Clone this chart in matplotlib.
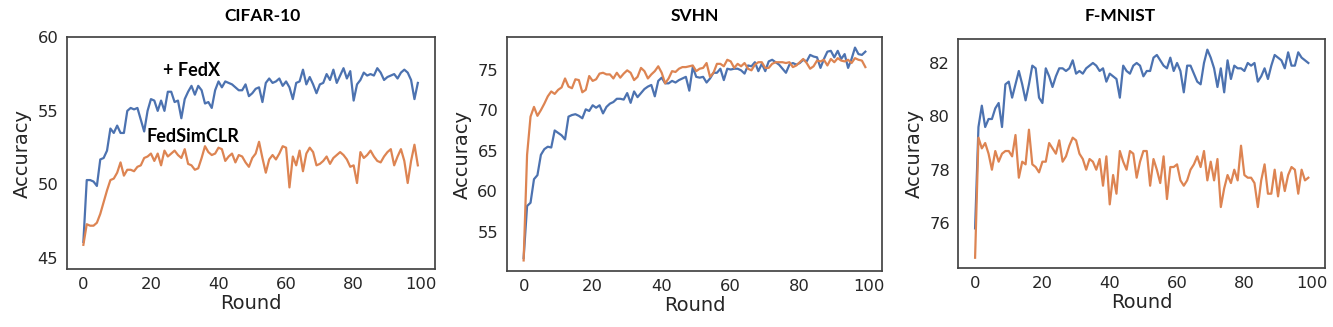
import matplotlib
matplotlib.use("Agg")
import matplotlib.pyplot as plt
import numpy as np

rounds = np.arange(100)

cifar_fedx = [46.1, 50.3, 50.3, 50.2, 49.9, 51.7, 51.8, 52.3, 53.8, 53.5,
              54.0, 53.5, 53.5, 55.0, 55.2, 55.1, 55.2, 54.4, 53.6, 55.0,
              55.8, 55.7, 55.0, 55.7, 55.0, 56.3, 56.3, 55.6, 55.7, 54.5,
              55.8, 56.3, 56.7, 56.1, 56.7, 56.4, 55.5, 55.6, 55.2, 56.4,
              57.0, 56.6, 57.0, 56.9, 56.8, 56.6, 56.4, 56.4, 56.8, 56.0,
              56.2, 56.5, 56.6, 55.6, 56.9, 57.2, 56.9, 57.0, 57.2, 56.7,
              57.0, 56.6, 55.8, 56.9, 57.0, 57.8, 56.8, 57.3, 56.8, 56.2,
              56.8, 56.9, 57.5, 57.1, 57.8, 56.9, 57.4, 57.9, 57.2, 57.7,
              55.7, 56.8, 57.1, 57.6, 57.4, 57.5, 57.4, 57.9, 57.6, 57.1,
              57.3, 57.4, 57.5, 57.2, 57.6, 57.8, 57.6, 57.1, 55.8, 56.9]
cifar_simclr = [45.9, 47.3, 47.2, 47.2, 47.4, 48.0, 48.8, 49.6, 50.3, 50.4,
                50.8, 51.5, 50.6, 51.0, 51.0, 50.9, 51.2, 51.3, 51.8, 51.9,
                52.1, 51.6, 52.1, 51.3, 52.3, 51.9, 52.1, 52.3, 52.0, 51.8,
                52.4, 51.4, 51.3, 51.0, 51.1, 51.8, 52.6, 52.2, 52.0, 52.1,
                52.5, 52.4, 51.6, 51.9, 52.1, 51.5, 52.0, 51.9, 51.5, 51.2,
                51.8, 52.1, 52.9, 51.8, 50.8, 51.7, 52.0, 51.7, 52.1, 52.6,
                52.5, 49.8, 51.9, 51.3, 52.3, 50.9, 52.1, 52.5, 52.2, 51.3,
                51.4, 51.6, 51.9, 51.4, 51.8, 52.0, 52.2, 52.0, 51.7, 51.2,
                51.3, 50.1, 52.2, 51.8, 52.0, 52.3, 51.9, 51.6, 51.5, 51.9,
                52.2, 52.4, 51.3, 51.9, 52.4, 51.6, 50.1, 51.6, 52.7, 51.3]

svhn_fedx = [51.8, 58.2, 58.6, 61.5, 62.0, 64.5, 65.2, 65.5, 65.4, 67.5,
             67.2, 66.9, 66.4, 69.2, 69.4, 69.5, 69.3, 69.0, 70.1, 69.9,
             70.6, 70.3, 70.6, 69.6, 70.4, 70.8, 71.0, 71.4, 71.4, 71.3,
             72.1, 70.9, 72.3, 71.6, 72.1, 72.6, 72.9, 73.1, 71.7, 73.6,
             74.0, 73.3, 73.3, 73.6, 73.4, 73.7, 73.9, 74.1, 72.4, 75.3,
             74.1, 74.0, 74.1, 73.4, 73.9, 74.6, 74.6, 75.1, 73.7, 75.1,
             75.0, 75.1, 75.1, 74.9, 74.5, 75.5, 75.4, 75.9, 74.8, 75.7,
             74.8, 76.0, 76.2, 75.9, 75.6, 75.1, 74.6, 75.6, 75.8, 75.6,
             75.8, 76.2, 76.0, 76.8, 76.6, 76.5, 75.2, 76.3, 77.2, 77.3,
             76.5, 77.3, 76.3, 76.9, 75.2, 76.3, 77.7, 76.9, 76.8, 77.2]
svhn_simclr = [51.5, 64.5, 69.2, 70.4, 69.3, 70.0, 70.8, 71.7, 72.3, 72.0,
               72.5, 72.8, 73.9, 72.9, 72.7, 73.8, 73.7, 72.2, 72.5, 74.2,
               73.6, 73.8, 74.5, 74.6, 74.4, 74.4, 73.9, 74.6, 74.0, 74.5,
               74.9, 74.6, 73.7, 74.1, 75.2, 74.8, 73.9, 74.4, 74.8, 75.4,
               74.6, 73.3, 73.9, 74.8, 74.7, 75.1, 75.3, 75.3, 75.4, 75.5,
               74.8, 75.1, 75.2, 75.8, 74.1, 74.6, 75.7, 75.7, 75.4, 76.2,
               76.0, 75.2, 75.7, 75.4, 75.8, 75.1, 74.9, 75.6, 75.9, 75.9,
               75.2, 75.2, 75.7, 75.9, 75.9, 75.9, 75.8, 75.9, 75.3, 75.5,
               75.9, 76.3, 75.8, 75.1, 75.4, 76.1, 76.0, 76.2, 75.5, 76.3,
               75.9, 76.4, 76.1, 76.0, 76.2, 75.8, 76.4, 76.2, 76.1, 75.3]

fmnist_fedx = [75.8, 79.6, 80.4, 79.6, 79.9, 79.9, 80.3, 80.5, 79.6, 81.2,
               81.3, 80.7, 81.2, 81.7, 81.2, 80.6, 81.2, 81.9, 81.8, 80.7,
               80.5, 81.8, 81.5, 81.1, 81.5, 81.8, 81.8, 81.7, 81.8, 82.1,
               81.6, 81.7, 81.6, 81.8, 81.9, 82.0, 81.9, 81.7, 81.8, 81.3,
               81.6, 81.5, 81.4, 80.7, 81.9, 81.7, 81.6, 81.9, 82.0, 81.9,
               81.5, 81.7, 81.7, 82.2, 82.3, 82.1, 81.9, 81.8, 82.2, 81.7,
               82.0, 81.7, 80.9, 81.9, 81.9, 81.6, 81.3, 81.2, 82.0, 82.5,
               82.2, 81.8, 81.1, 81.8, 80.9, 82.1, 81.4, 81.9, 81.8, 81.8,
               81.7, 82.0, 81.9, 82.0, 81.3, 81.5, 81.8, 81.4, 81.9, 82.3,
               82.2, 82.1, 81.8, 82.4, 81.9, 81.9, 82.4, 82.2, 82.1, 82.0]
fmnist_simclr = [74.7, 79.2, 78.8, 79.0, 78.6, 78.0, 78.7, 78.3, 78.6, 78.7,
                 78.7, 78.5, 79.3, 77.7, 78.3, 78.2, 79.5, 78.2, 78.1, 77.9,
                 78.3, 78.3, 79.0, 78.8, 78.6, 79.1, 78.3, 78.5, 78.9, 79.2,
                 79.1, 78.6, 78.4, 78.0, 78.4, 78.3, 78.0, 78.4, 77.4, 78.5,
                 76.7, 77.8, 77.1, 78.7, 78.3, 78.0, 78.7, 78.6, 77.7, 78.3,
                 78.7, 78.7, 77.4, 78.4, 78.0, 77.5, 78.5, 76.9, 78.1, 78.1,
                 78.2, 77.6, 77.4, 77.6, 78.0, 78.2, 78.5, 78.1, 78.7, 77.6,
                 78.3, 77.6, 78.4, 76.6, 77.3, 77.8, 77.5, 78.0, 77.6, 78.9,
                 77.8, 77.7, 77.7, 77.5, 76.6, 77.6, 78.2, 77.1, 77.1, 78.0,
                 77.0, 77.9, 77.2, 77.8, 78.1, 78.0, 77.1, 78.0, 77.6, 77.7]

titles = ["CIFAR-10", "SVHN", "F-MNIST"]
title_x = [0.197, 0.521, 0.840]
xticks = [0, 20, 40, 60, 80, 100]
yticks = [[45, 50, 55, 60], [55, 60, 65, 70, 75], [76, 78, 80, 82]]

BLUE = "#4C72B0"
ORANGE = "#DD8452"
TEXT = "#262626"

fig = plt.figure(figsize=(13.33, 3.27), dpi=100)
boxes = [[0.050, 0.177, 0.276, 0.709],
         [0.380, 0.171, 0.282, 0.716],
         [0.719, 0.180, 0.275, 0.700]]
series = [(cifar_fedx, cifar_simclr), (svhn_fedx, svhn_simclr),
          (fmnist_fedx, fmnist_simclr)]

axes = []
for i, (box, (fedx, simclr)) in enumerate(zip(boxes, series)):
    ax = fig.add_axes(box)
    ax.plot(rounds, fedx, color=BLUE, lw=1.6)
    ax.plot(rounds, simclr, color=ORANGE, lw=1.6)
    ax.set_xticks(xticks)
    ax.set_yticks(yticks[i])
    ax.tick_params(length=0, pad=6, labelsize=11.8, colors=TEXT)
    ax.set_xlabel("Round", fontsize=14, color=TEXT, labelpad=1)
    ax.set_ylabel("Accuracy", fontsize=14, color=TEXT, labelpad=4)
    for s in ax.spines.values():
        s.set_color("#444444")
        s.set_linewidth(1.25)
    fig.text(title_x[i], 0.95, titles[i], ha="center", va="center",
             fontsize=12.5, fontweight="bold", family="Lato")
    axes.append(ax)

axes[0].set_ylim(44.25, 60)
axes[0].text(32, 57.75, "+ FedX", ha="center", va="center", fontsize=13,
             fontweight="bold", family="Lato")
axes[0].text(32.5, 53.25, "FedSimCLR", ha="center", va="center", fontsize=13,
             fontweight="bold", family="Lato")

fig.savefig("out.png", dpi=100)
